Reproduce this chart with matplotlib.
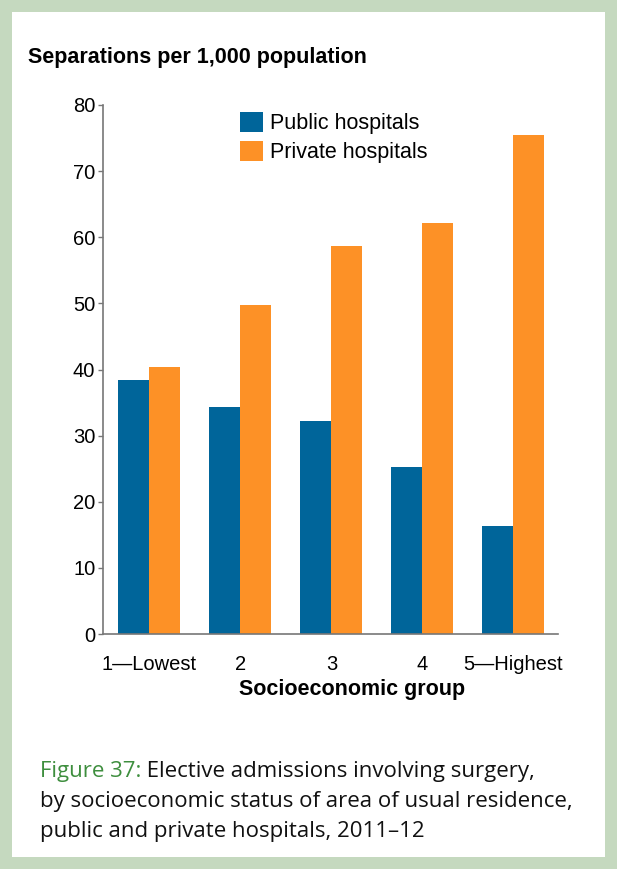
import matplotlib.pyplot as plt
import matplotlib.patches as mpatches
import numpy as np

plt.rcParams['font.family'] = ['Liberation Sans', 'DejaVu Sans']

groups = ["1\u2014Lowest", "2", "3", "4", "5\u2014Highest"]
public = [38.4, 34.3, 32.2, 25.3, 16.3]
private = [40.4, 49.8, 58.7, 62.2, 75.5]

blue = "#00659a"
orange = "#fd9126"
frame_green = "#c5d9bf"

fig = plt.figure(figsize=(6.17, 8.69), dpi=100)

# green frame around the whole figure
fig.patches.append(mpatches.Rectangle((0, 0), 1, 1, transform=fig.transFigure,
                                      facecolor=frame_green, edgecolor="none", zorder=-2))
fig.patches.append(mpatches.Rectangle((12 / 617, 12 / 869), 1 - 24 / 617, 1 - 24 / 869,
                                      transform=fig.transFigure, facecolor="white",
                                      edgecolor="none", zorder=-1))

ax = fig.add_axes([103 / 617, 1 - 634 / 869, 455 / 617, 529 / 869])
ax.patch.set_alpha(0)

x = np.arange(len(groups))
w = 0.34
ax.bar(x - w / 2, public, w, color=blue, label="Public hospitals")
ax.bar(x + w / 2, private, w, color=orange, label="Private hospitals")

ax.set_xlim(-0.51, 4.49)
ax.set_ylim(0, 80)
ax.set_yticks(range(0, 81, 10))
ax.set_xticks(x)
ax.set_xticklabels(groups)
ax.tick_params(axis="x", length=0, labelsize=14.5, pad=15)
ax.tick_params(axis="y", length=3.5, width=1, color="#777777", labelsize=14.5, pad=2)

for s in ["top", "right"]:
    ax.spines[s].set_visible(False)
for s in ["left", "bottom"]:
    ax.spines[s].set_color("#777777")
    ax.spines[s].set_linewidth(1.2)

ax.set_xlabel("Socioeconomic group", fontsize=15.5, fontweight="bold")
ax.xaxis.set_label_coords((352 - 103) / 455, -(690 - 634) / 529)
ax.xaxis.label.set_va("center")

fig.text(28 / 617, 1 - 57 / 869, "Separations per 1,000 population",
         fontsize=15.5, fontweight="bold", va="center", ha="left")

ax.legend(loc="upper left", bbox_to_anchor=(240 / 617, 1 - 112 / 869),
          bbox_transform=fig.transFigure, frameon=False, fontsize=15.5,
          handlelength=1.05, handleheight=1.05, handletextpad=0.35,
          labelspacing=0.3, borderaxespad=0, borderpad=0)

# caption
cap_font = ['Open Sans', 'DejaVu Sans']
cap_size = 16
t = fig.text(40 / 617, 1 - 771 / 869, "Figure 37:", color="#3e8e3e",
             fontsize=cap_size, family=cap_font, va="center", ha="left")
ax.annotate(" Elective admissions involving surgery,", xy=(1, 0), xycoords=t,
            va="bottom", ha="left", fontsize=cap_size, family=cap_font, color="#111111",
            annotation_clip=False)
fig.text(40 / 617, 1 - 801 / 869, "by socioeconomic status of area of usual residence,",
         fontsize=cap_size, family=cap_font, color="#111111", va="center", ha="left")
fig.text(40 / 617, 1 - 832 / 869, "public and private hospitals, 2011\u201312",
         fontsize=cap_size, family=cap_font, color="#111111", va="center", ha="left")

fig.savefig("out.png", dpi=100)
